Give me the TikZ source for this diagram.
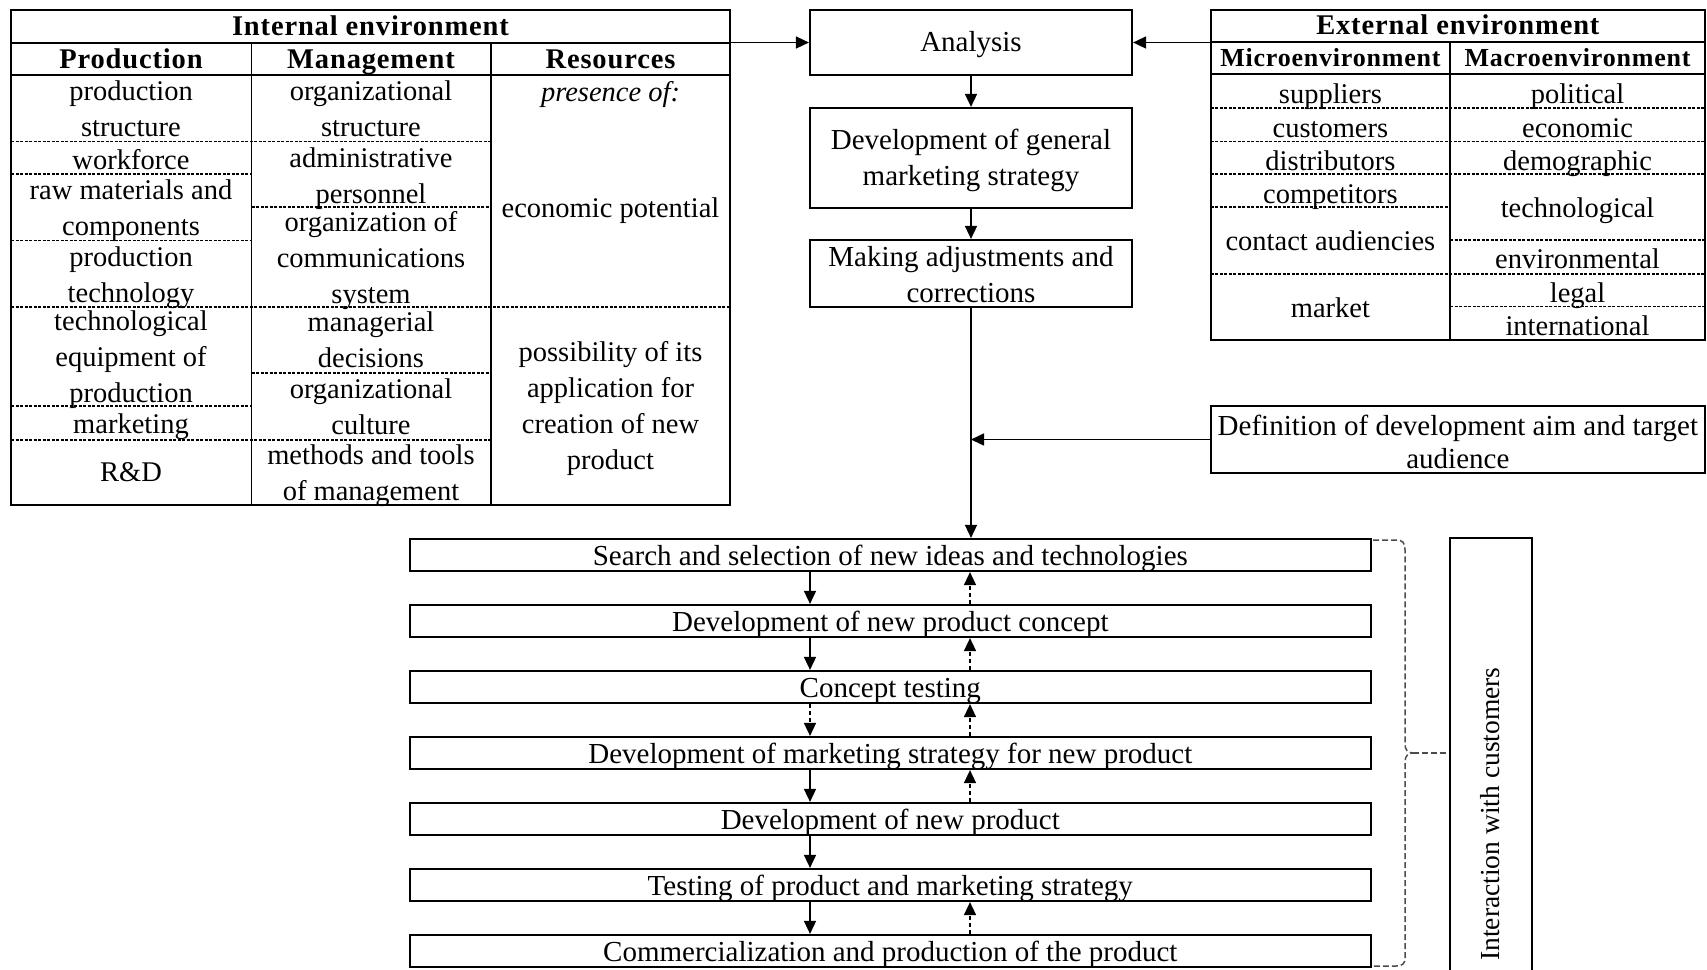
\documentclass[tikz,border=0pt]{standalone}
\usepackage{fontspec}
\setmainfont{Liberation Serif}
\newfontfamily\headfont[LetterSpace=3]{Liberation Serif}
\usetikzlibrary{arrows.meta}

\begin{document}
\begin{tikzpicture}[x=1pt, y=-1pt,
  linetext/.style={font=\fontsize{29}{36}\selectfont, inner sep=0pt, text height=20pt, text depth=6pt},
  celltext/.style={font=\fontsize{28.5}{36}\selectfont, inner sep=0pt, align=center, yshift=-5pt,
                   execute at begin node=\strut, execute at end node=\strut},
  single/.style={yshift=1.5pt},
  boxtext/.style={celltext, font=\fontsize{29}{36}\selectfont},
  headtext/.style={font=\headfont\bfseries\fontsize{28.5}{36}\selectfont, inner sep=0pt, text height=20pt, text depth=6pt, yshift=-2pt},
  subheadtext/.style={headtext, font=\headfont\bfseries\fontsize{26}{32}\selectfont},
  tframe/.style={draw, line width=2.4pt, inner sep=0pt},
  stepbox/.style={draw, line width=2.2pt, inner sep=0pt},
  procbox/.style={stepbox, minimum width=960.6pt, minimum height=32pt},
  proctext/.style={linetext, yshift=-3pt},
  hrule/.style={line width=2pt},
  vdiv/.style={line width=1.5pt},
  dashsep/.style={line width=1.1pt, dash pattern=on 3pt off 1.5pt},
  arrowsolid/.style={line width=1.6pt, -{Triangle[length=13pt,width=12pt]}},
  arrowdash/.style={arrowsolid, dash pattern=on 4pt off 3pt},
  bracepath/.style={line width=1.5pt, black!70, dash pattern=on 6pt off 3pt},
]
\useasboundingbox (0,0) rectangle (1707,969);
\clip (0,0) rectangle (1707,969);

% ---------- internal environment table ----------
\node[tframe, minimum width=719pt, minimum height=495pt] (intT) at (370.5,257.5) {};
\draw[hrule] (11,42.5) -- (730,42.5);
\draw[hrule] (11,75) -- (730,75);
\draw[vdiv] (251.5,42.5) -- (251.5,505);
\draw[vdiv] (491,42.5) -- (491,505);
\draw[dashsep] (11,141.5) -- (491,141.5);
\draw[dashsep] (11,174) -- (251.5,174);
\draw[dashsep] (251.5,207) -- (491,207);
\draw[dashsep] (11,240.6) -- (251.5,240.6);
\draw[dashsep] (11,307) -- (730,307);
\draw[dashsep] (251.5,373) -- (491,373);
\draw[dashsep] (11,406) -- (251.5,406);
\draw[dashsep] (11,440) -- (491,440);

\node[headtext] (intTitle) at (370.5,26) {Internal environment};
\node[headtext] (hProd) at (131,59) {Production};
\node[headtext] (hMan) at (371,59) {Management};
\node[headtext] (hRes) at (610.5,59) {Resources};

\node[celltext] (p1) at (131,109) {production\\structure};
\node[celltext, single] (p2) at (131,158.5) {workforce};
\node[celltext] (p3) at (131,208.5) {raw materials and\\components};
\node[celltext] (p4) at (131,275.5) {production\\technology};
\node[celltext] (p5) at (131,357.5) {technological\\equipment of\\production};
\node[celltext, single] (p6) at (131,423) {marketing};
\node[celltext, single] (p7) at (131,471) {R\&D};

\node[celltext] (m1) at (371,109) {organizational\\structure};
\node[celltext] (m2) at (371,176) {administrative\\personnel};
\node[celltext] (m3) at (371,258) {organization of\\communications\\system};
\node[celltext] (m4) at (371,340.5) {managerial\\decisions};
\node[celltext] (m5) at (371,407.5) {organizational\\culture};
\node[celltext] (m6) at (371,473.5) {methods and tools\\of management};

\node[celltext, single] (r1) at (610.5,91) {\itshape presence of:};
\node[celltext, single] (r2) at (610.5,206.5) {economic potential};
\node[celltext] (r3) at (610.5,406) {possibility of its\\application for\\creation of new\\product};

% ---------- external environment table ----------
\node[tframe, minimum width=494.3pt, minimum height=330pt] (extT) at (1457.85,175) {};
\draw[hrule] (1210.7,42) -- (1705,42);
\draw[hrule] (1210.7,74) -- (1705,74);
\draw[vdiv] (1450,42) -- (1450,340);
\draw[dashsep] (1210.7,108) -- (1705,108);
\draw[dashsep] (1210.7,141.7) -- (1705,141.7);
\draw[dashsep] (1210.7,174) -- (1705,174);
\draw[dashsep] (1210.7,207) -- (1450,207);
\draw[dashsep] (1450,240) -- (1705,240);
\draw[dashsep] (1210.7,274) -- (1705,274);
\draw[dashsep] (1450,306.7) -- (1705,306.7);

\node[headtext] (extTitle) at (1457.85,25.5) {External environment};
\node[subheadtext] (hMicro) at (1330.4,57) {Microenvironment};
\node[subheadtext] (hMacro) at (1577.5,57) {Macroenvironment};

\node[celltext, single] (e1) at (1330.4,92.5) {suppliers};
\node[celltext, single] (e2) at (1330.4,126.5) {customers};
\node[celltext, single] (e3) at (1330.4,159.5) {distributors};
\node[celltext, single] (e4) at (1330.4,192.5) {competitors};
\node[celltext, single] (e5) at (1330.4,239.5) {contact audiencies};
\node[celltext, single] (e6) at (1330.4,306.5) {market};

\node[celltext, single] (x1) at (1577.5,92.5) {political};
\node[celltext, single] (x2) at (1577.5,126.5) {economic};
\node[celltext, single] (x3) at (1577.5,159.5) {demographic};
\node[celltext, single] (x4) at (1577.5,206.5) {technological};
\node[celltext, single] (x5) at (1577.5,257.5) {environmental};
\node[celltext, single] (x6) at (1577.5,291.5) {legal};
\node[celltext, single] (x7) at (1577.5,324.5) {international};

% ---------- strategy column ----------
\node[stepbox, minimum width=322pt, minimum height=65pt] (an) at (971,42.5) {};
\node[linetext, yshift=-1.5pt] (ant) at (an) {Analysis};
\node[stepbox, minimum width=322pt, minimum height=100pt] (dg) at (971,158) {};
\node[boxtext] (dgt) at (971,158) {Development of general\\marketing strategy};
\node[stepbox, minimum width=322pt, minimum height=67pt] (mk) at (971,273.5) {};
\node[boxtext] (mkt) at (971,275) {Making adjustments and\\corrections};
\node[stepbox, minimum width=494.3pt, minimum height=67pt] (def) at (1457.85,439.5) {};
\node[boxtext, font=\fontsize{29}{33}\selectfont] (deft) at (1457.85,441.5) {Definition of development aim and target\\audience};

\draw[arrowsolid] (an.west -| intT.east) -- (an.west);
\draw[arrowsolid] (an.east -| extT.west) -- (an.east);
\draw[arrowsolid] (an.south) -- (dg.north);
\draw[arrowsolid] (dg.south) -- (mk.north);

% ---------- new product development stages ----------
\foreach \i/\t in {1/Search and selection of new ideas and technologies,
                   2/Development of new product concept,
                   3/Concept testing,
                   4/Development of marketing strategy for new product,
                   5/Development of new product,
                   6/Testing of product and marketing strategy,
                   7/Commercialization and production of the product}
{
  \node[procbox] (s\i) at (890.3,{555+66*(\i-1)}) {};
  \node[proctext] (s\i t) at (s\i) {\t};
}

\draw[arrowsolid] (mk.south) -- (mk.south |- s1.north);
\draw[arrowsolid] (def.west) -- (def.west -| mk.south);

\coordinate (dx) at (810,0);
\coordinate (ux) at (970,0);
\foreach \i/\j in {1/2,2/3,4/5,5/6,6/7}
  \draw[arrowsolid] (s\i.south -| dx) -- (s\j.north -| dx);
\draw[arrowdash] (s3.south -| dx) -- (s4.north -| dx);
\foreach \i/\j in {2/1,3/2,4/3,5/4,7/6}
  \draw[arrowdash] (s\i.north -| ux) -- (s\j.south -| ux);

% ---------- interaction with customers ----------
\node[stepbox, minimum width=82pt, minimum height=433pt] (ic) at (1491,754.5) {};
\node[linetext, font=\fontsize{27.5}{34}\selectfont, rotate=90] (ict) at (1492,814) {Interaction with customers};

\draw[bracepath] (1373,540) -- (1396,540) .. controls (1403,540) and (1405,543) .. (1405,550)
  -- (1405,744) .. controls (1405,750) and (1408,753) .. (1413,753)
  .. controls (1408,753) and (1405,756) .. (1405,762)
  -- (1405,958) .. controls (1405,964) and (1402,966) .. (1396,966) -- (1373,966);
\coordinate (btip) at (1413,753);
\draw[bracepath] (btip) -- (btip -| ic.west);
\end{tikzpicture}
\end{document}
